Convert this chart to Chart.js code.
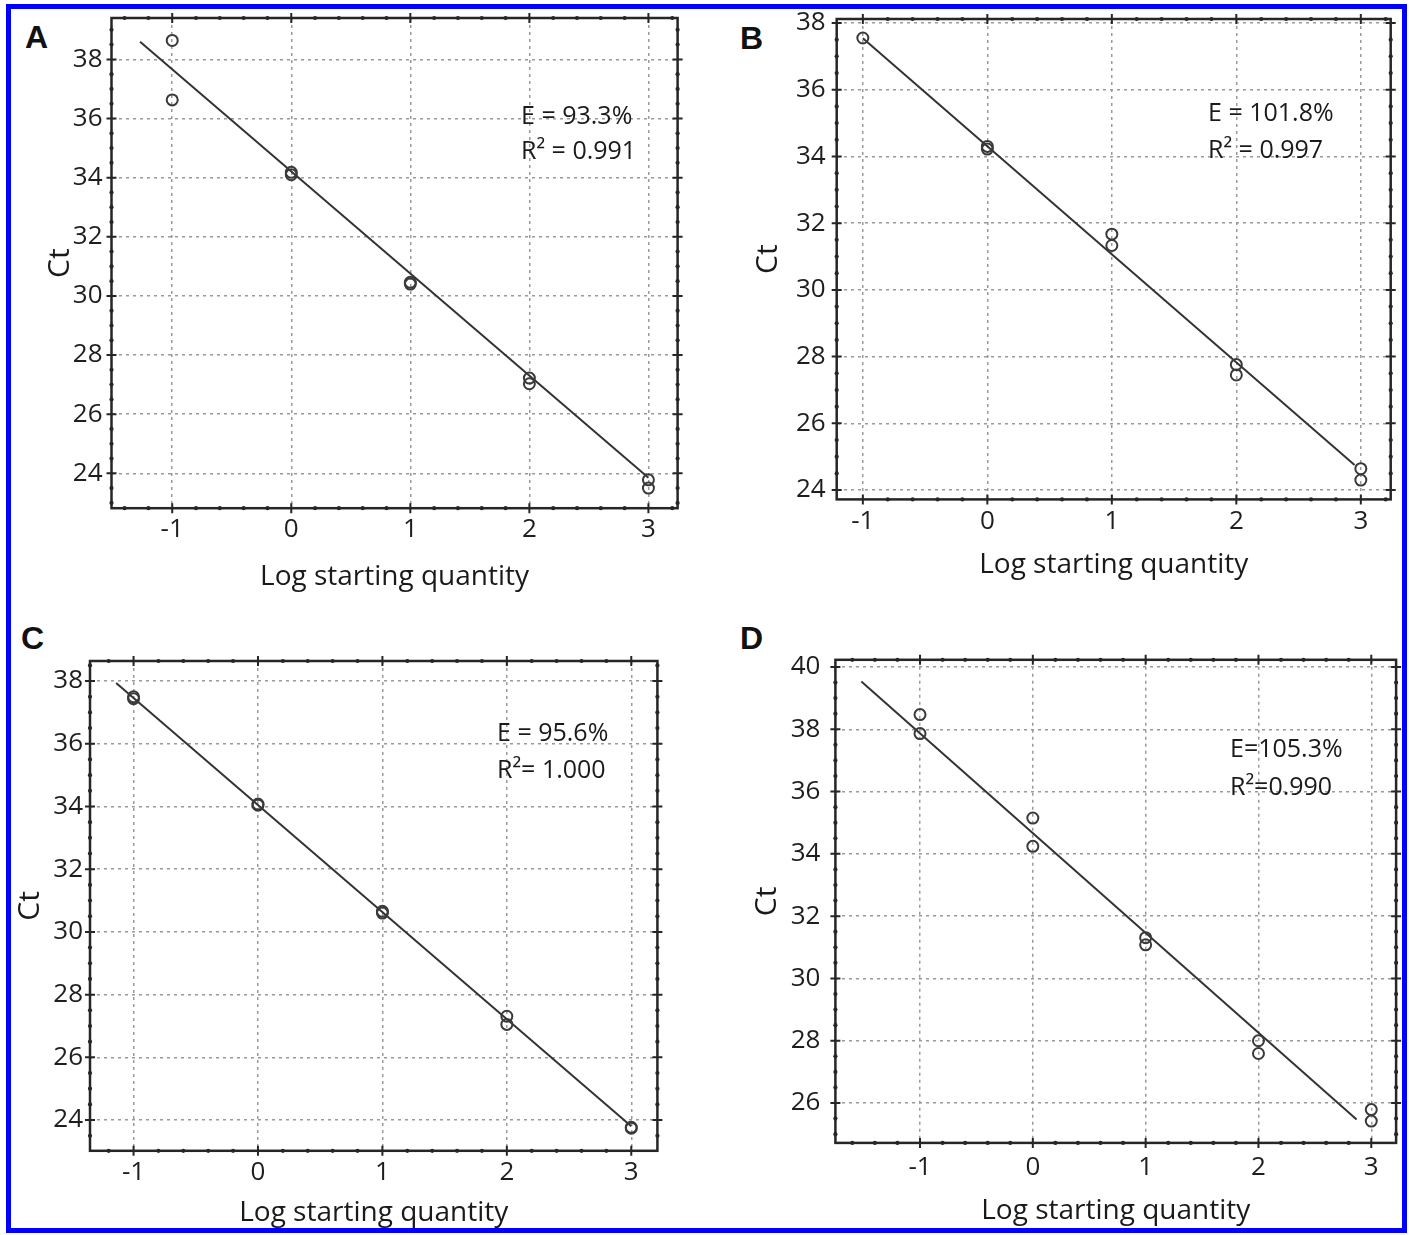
<!DOCTYPE html>
<html>
<head>
<meta charset="utf-8">
<title>qPCR standard curves</title>
<script src="https://cdn.jsdelivr.net/npm/chart.js@4.4.1/dist/chart.umd.min.js"></script>
<style>
  body { margin: 0; background: #fff; width: 1410px; height: 1235px; position: relative; overflow: hidden; }
  .frame { position: absolute; left: 6px; top: 4px; width: 1391px; height: 1219px; border: 5px solid #0000ff; pointer-events: none; z-index: 5; }
  canvas { position: absolute; }
  .letter { position: absolute; font: bold 32px "Liberation Sans", Arial, sans-serif; color: #111; line-height: 1; }
</style>
</head>
<body>
<div class="frame"></div>
<div class="letter" style="left:25px;top:21px">A</div>
<div class="letter" style="left:740px;top:22px">B</div>
<div class="letter" style="left:21px;top:622px">C</div>
<div class="letter" style="left:740px;top:622px">D</div>
<canvas id="chart-a"></canvas>
<canvas id="chart-b"></canvas>
<canvas id="chart-c"></canvas>
<canvas id="chart-d"></canvas>
<script>
// Valores comunes
const xTicks = [-1, 0, 1, 2, 3];
const xTitle = 'Log starting quantity';
const yTitle = 'Ct';

// Panel A
const logQtyA = [-1, -1, 0, 0, 1, 1, 2, 2, 3, 3];
const ctA = [38.64, 36.63, 34.18, 34.1, 30.46, 30.4, 27.22, 27.03, 23.78, 23.5];
const fitXA = [-1.27, 3.0];
const fitYA = [38.6, 23.85];
const yTicksA = [24, 26, 28, 30, 32, 34, 36, 38];
const annA = ['E = 93.3%', 'R\u00b2 = 0.991'];

// Panel B
const logQtyB = [-1, 0, 0, 1, 1, 2, 2, 3, 3];
const ctB = [37.55, 34.3, 34.22, 31.67, 31.33, 27.76, 27.45, 24.64, 24.3];
const fitXB = [-1.0, 2.95];
const fitYB = [37.54, 24.75];
const yTicksB = [24, 26, 28, 30, 32, 34, 36, 38];
const annB = ['E = 101.8%', 'R\u00b2 = 0.997'];

// Panel C
const logQtyC = [-1, -1, 0, 0, 1, 1, 2, 2, 3, 3];
const ctC = [37.5, 37.44, 34.08, 34.04, 30.66, 30.6, 27.31, 27.05, 23.77, 23.74];
const fitXC = [-1.14, 3.0];
const fitYC = [37.94, 23.8];
const yTicksC = [24, 26, 28, 30, 32, 34, 36, 38];
const annC = ['E = 95.6%', 'R\u00b2= 1.000'];

// Panel D
const logQtyD = [-1, -1, 0, 0, 1, 1, 2, 2, 3, 3];
const ctD = [38.47, 37.86, 35.15, 34.24, 31.31, 31.08, 28.0, 27.59, 25.79, 25.42];
const fitXD = [-1.52, 2.87];
const fitYD = [39.53, 25.47];
const yTicksD = [26, 28, 30, 32, 34, 36, 38, 40];
const annD = ['E=105.3%', 'R\u00b2=0.990'];

// Posiciones de cada panel en la página
const panels = [
  { el: 'chart-a', canvas: [12, 10, 690, 590], area: [111.5, 18, 677.6, 508.2],
    xRange: [-1.51, 3.245], yRange: [22.82, 39.4], yTicks: yTicksA,
    xs: logQtyA, ys: ctA, fitX: fitXA, fitY: fitYA, ann: annA, annPos: [521, 115, 150],
    yTickPad: 9, yTitlePad: 30, xTickPad: 6, xTitlePad: 6 },
  { el: 'chart-b', canvas: [712, 10, 693, 590], area: [836.7, 19, 1390.7, 499.4],
    xRange: [-1.21, 3.24], yRange: [23.72, 38.12], yTicks: yTicksB,
    xs: logQtyB, ys: ctB, fitX: fitXB, fitY: fitYB, ann: annB, annPos: [1208, 112, 149],
    yTickPad: 11, yTitlePad: 38, xTickPad: 7, xTitlePad: 18 },
  { el: 'chart-c', canvas: [12, 612, 690, 618], area: [90, 661, 657.4, 1150.8],
    xRange: [-1.35, 3.21], yRange: [23.02, 38.64], yTicks: yTicksC,
    xs: logQtyC, ys: ctC, fitX: fitXC, fitY: fitYC, ann: annC, annPos: [497, 732, 769],
    yTickPad: 7, yTitlePad: 0, xTickPad: 6, xTitlePad: 0 },
  { el: 'chart-d', canvas: [712, 612, 693, 618], area: [835.4, 659.8, 1396.1, 1142.9],
    xRange: [-1.75, 3.22], yRange: [24.72, 40.23], yTicks: yTicksD,
    xs: logQtyD, ys: ctD, fitX: fitXD, fitY: fitYD, ann: annD, annPos: [1230, 748, 786],
    yTickPad: 15, yTitlePad: 37, xTickPad: 9, xTitlePad: 2 }
];

Chart.defaults.font.family = '"Open Sans", "Noto Sans", sans-serif';
Chart.defaults.color = '#1e1e1e';

// Marco del gráfico con marcas menores
const framePlugin = {
  id: 'plotFrame',
  afterDraw(chart, args, opts) {
    const { ctx, chartArea: a, scales: { x, y } } = chart;
    ctx.save();
    ctx.strokeStyle = '#262626';
    ctx.fillStyle = '#262626';
    ctx.lineWidth = 2.5;
    ctx.strokeRect(a.left, a.top, a.right - a.left, a.bottom - a.top);

    const dot = (px, py) => {
      ctx.beginPath();
      ctx.arc(px, py, 2.1, 0, Math.PI * 2);
      ctx.fill();
    };
    const isMajor = (v, list) => list.some(t => Math.abs(t - v) < 1e-6);

    ctx.lineWidth = 2;
    for (let i = Math.ceil(x.min / opts.xMinor); i * opts.xMinor <= x.max; i++) {
      const v = i * opts.xMinor;
      const px = x.getPixelForValue(v);
      if (px < a.left + 3 || px > a.right - 3) continue;
      if (isMajor(v, opts.xMajor)) {
        ctx.beginPath();
        ctx.moveTo(px, a.bottom - 5); ctx.lineTo(px, a.bottom + 5);
        ctx.moveTo(px, a.top - 5); ctx.lineTo(px, a.top + 5);
        ctx.stroke();
      } else {
        dot(px, a.bottom);
        dot(px, a.top);
      }
    }
    for (let i = Math.ceil(y.min / opts.yMinor); i * opts.yMinor <= y.max; i++) {
      const v = i * opts.yMinor;
      const py = y.getPixelForValue(v);
      if (py < a.top + 3 || py > a.bottom - 3) continue;
      if (isMajor(v, opts.yMajor)) {
        ctx.beginPath();
        ctx.moveTo(a.left - 5, py); ctx.lineTo(a.left + 5, py);
        ctx.moveTo(a.right - 5, py); ctx.lineTo(a.right + 5, py);
        ctx.stroke();
      } else {
        dot(a.left, py);
        dot(a.right, py);
      }
    }
    ctx.restore();
  }
};

// Texto de eficiencia y R²
const annotationPlugin = {
  id: 'fitText',
  afterDraw(chart, args, opts) {
    const { ctx } = chart;
    ctx.save();
    ctx.font = '25px "Open Sans", "Noto Sans", sans-serif';
    ctx.fillStyle = '#1a1a1a';
    ctx.textBaseline = 'alphabetic';
    ctx.textAlign = 'left';
    opts.lines.forEach((line, i) => {
      ctx.fillText(line, opts.x, opts.y[i] + 9);
    });
    ctx.restore();
  }
};

panels.forEach(p => {
  const [cx, cy, cw, ch] = p.canvas;
  const [l, t, r, b] = p.area;
  const canvasEl = document.getElementById(p.el);
  canvasEl.width = cw;
  canvasEl.height = ch;
  canvasEl.style.left = cx + 'px';
  canvasEl.style.top = cy + 'px';

  const points = p.xs.map((v, i) => ({ x: v, y: p.ys[i] }));
  const fit = p.fitX.map((v, i) => ({ x: v, y: p.fitY[i] }));

  new Chart(canvasEl.getContext('2d'), {
    type: 'scatter',
    data: {
      datasets: [
        {
          label: 'Ct',
          data: points,
          pointStyle: 'circle',
          pointRadius: 5.5,
          pointBorderWidth: 2,
          pointBorderColor: '#3a3a3a',
          pointBackgroundColor: 'rgba(255,255,255,0)',
          showLine: false,
          order: 1
        },
        {
          label: 'Ajuste',
          data: fit,
          showLine: true,
          borderColor: '#333',
          borderWidth: 2,
          pointRadius: 0,
          order: 2
        }
      ]
    },
    options: {
      responsive: false,
      animation: false,
      layout: { padding: { left: 0, top: t - cy, right: cx + cw - r, bottom: 0 } },
      plugins: {
        legend: { display: false },
        tooltip: { enabled: false },
        plotFrame: { xMinor: 0.2, yMinor: 0.5, xMajor: xTicks, yMajor: p.yTicks },
        fitText: { lines: p.ann, x: p.annPos[0] - cx, y: [p.annPos[1] - cy, p.annPos[2] - cy] }
      },
      scales: {
        x: {
          type: 'linear',
          min: p.xRange[0],
          max: p.xRange[1],
          afterBuildTicks: s => { s.ticks = xTicks.map(v => ({ value: v })); },
          afterFit: s => { s.height = cy + ch - b; s.paddingLeft = 0; s.paddingRight = 0; },
          ticks: { font: { size: 26 }, padding: p.xTickPad, color: '#1e1e1e' },
          grid: { color: '#9a9a9a', lineWidth: 1.5, drawTicks: false },
          border: { display: false, dash: [3, 4] },
          title: { display: true, text: xTitle, font: { size: 28 }, color: '#1a1a1a',
                   padding: { top: 0, bottom: p.xTitlePad } }
        },
        y: {
          type: 'linear',
          min: p.yRange[0],
          max: p.yRange[1],
          afterBuildTicks: s => { s.ticks = p.yTicks.map(v => ({ value: v })); },
          afterFit: s => { s.width = l - cx; s.paddingTop = 0; s.paddingBottom = 0; },
          ticks: { font: { size: 26 }, padding: p.yTickPad, color: '#1e1e1e' },
          grid: { color: '#9a9a9a', lineWidth: 1.5, drawTicks: false },
          border: { display: false, dash: [3, 4] },
          title: { display: true, text: yTitle, font: { size: 30 }, color: '#1a1a1a',
                   padding: { top: p.yTitlePad, bottom: 0 } }
        }
      }
    },
    plugins: [framePlugin, annotationPlugin]
  });
});
</script>
</body>
</html>
